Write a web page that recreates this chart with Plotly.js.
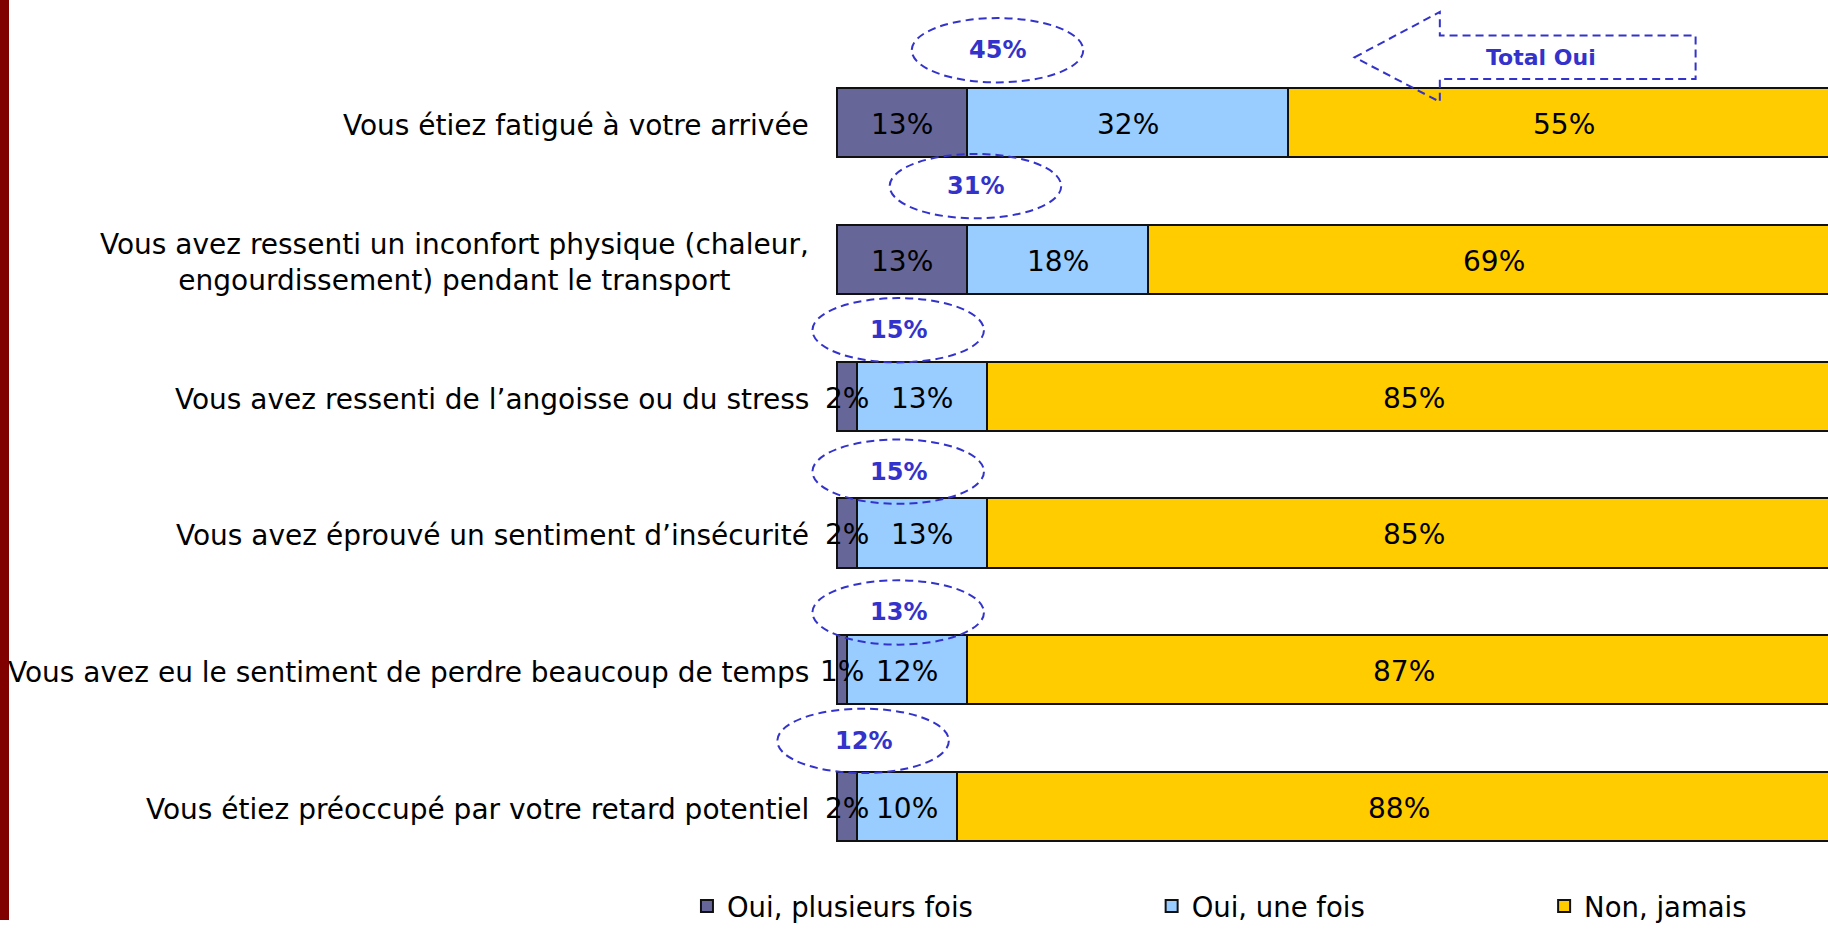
<!DOCTYPE html>
<html><head><meta charset="utf-8">
<script src="https://cdn.plot.ly/plotly-3.0.1.min.js"></script>
<style>html,body{margin:0;padding:0;background:#fff;} #chart{width:1828px;height:931px;}</style>
</head><body><div id="chart"></div>
<script>
// ---- data ----
const categories = [
  "Vous étiez fatigué à votre arrivée",
  "Vous avez ressenti un inconfort physique (chaleur,<br>engourdissement) pendant le transport",
  "Vous avez ressenti de l’angoisse ou du stress",
  "Vous avez éprouvé un sentiment d’insécurité",
  "Vous avez eu le sentiment de perdre beaucoup de temps",
  "Vous étiez préoccupé par votre retard potentiel"
];
const seriesNames = ["Oui, plusieurs fois", "Oui, une fois", "Non, jamais"];
const ouiPlusieurs = [13, 13, 2, 2, 1, 2];
const ouiUneFois = [32, 18, 13, 13, 12, 10];
const nonJamais = [55, 69, 85, 85, 87, 88];
const totalOui = [45, 31, 15, 15, 13, 12];
const totalLabel = "Total Oui";

// ---- styling / layout helpers ----
const FONT = "DejaVu Sans, Verdana, sans-serif";
const colors = ["#666699", "#99CCFF", "#FFCC00"];
const blue = "#3333CC";
const dashStyle = "8px,5px";
// ellipse placement (x centre in % units, vertical offset in category units)
const ellipseX = [16.0, 13.8, 6.1, 6.1, 6.1, 2.6];
const ellipseDy = [-0.527, -0.534, -0.481, -0.448, -0.419, -0.481];
const ellHalfW = 8.55, ellHalfH = 0.235;

const seriesValues = [ouiPlusieurs, ouiUneFois, nonJamais];
const legendIds = ["legend", "legend2", "legend3"];
const idx = categories.map((_, i) => i);

const traces = seriesValues.map((vals, k) => ({
  type: "bar",
  orientation: "h",
  name: seriesNames[k],
  legend: legendIds[k],
  x: vals,
  y: idx,
  textposition: "none",
  marker: {color: colors[k], line: {color: "#111", width: 2}},
  hoverinfo: "skip"
}));

const shapes = [];
const annotations = [];

// left dark red strip
shapes.push({type: "rect", xref: "paper", yref: "paper", x0: 0, x1: 9 / 1828, y0: 0, y1: 1,
  fillcolor: "#800000", line: {width: 0}, layer: "above"});

// category labels
categories.forEach((c, i) => {
  annotations.push({x: -2.6, y: i, xref: "x", yref: "y", text: c, showarrow: false,
    xanchor: "right", yanchor: "middle", align: "center", yshift: -3,
    font: {family: FONT, size: 28, color: "#000"}});
});

// value labels, centred in each stacked segment (drawn on top of bars)
categories.forEach((c, i) => {
  let start = 0;
  seriesValues.forEach(vals => {
    const v = vals[i];
    annotations.push({x: start + v / 2, y: i, xref: "x", yref: "y", text: v + "%", showarrow: false,
      xanchor: "center", yanchor: "middle", yshift: -2,
      font: {family: FONT, size: 28, color: "#000"}});
    start += v;
  });
});

// total-oui ellipses
totalOui.forEach((t, i) => {
  const cx = ellipseX[i], cy = i + ellipseDy[i];
  shapes.push({type: "circle", xref: "x", yref: "y",
    x0: cx - ellHalfW, x1: cx + ellHalfW, y0: cy - ellHalfH, y1: cy + ellHalfH,
    line: {color: blue, width: 2, dash: dashStyle}, fillcolor: "rgba(0,0,0,0)", layer: "above"});
  annotations.push({x: cx, y: cy, xref: "x", yref: "y", text: t + "%", showarrow: false,
    xanchor: "center", yanchor: "middle",
    font: {family: FONT, size: 24, color: blue, weight: "bold"}});
});

// "Total Oui" dashed arrow (block arrow pointing left)
const ax = [51.6, 60.1, 60.1, 85.6, 85.6, 60.1, 60.1];
const ay = [-0.475, -0.807, -0.634, -0.634, -0.316, -0.316, -0.150];
let p = "M" + ax[0] + "," + ay[0];
for (let j = 1; j < ax.length; j++) p += " L" + ax[j] + "," + ay[j];
p += " Z";
shapes.push({type: "path", xref: "x", yref: "y", path: p,
  line: {color: blue, width: 2, dash: dashStyle}, fillcolor: "rgba(0,0,0,0)", layer: "above"});
annotations.push({x: 70.2, y: -0.475, xref: "x", yref: "y", text: totalLabel, showarrow: false,
  xanchor: "center", yanchor: "middle",
  font: {family: FONT, size: 22, color: blue, weight: "bold"}});

const legendBase = {orientation: "h", yref: "paper", xref: "paper", y: 0.015, yanchor: "middle",
  xanchor: "left", bgcolor: "rgba(0,0,0,0)", font: {family: FONT, size: 27.5, color: "#000"},
  itemclick: false, itemdoubleclick: false};

const layout = {
  width: 1828, height: 931,
  margin: {l: 0, r: 0, t: 0, b: 0, pad: 0},
  paper_bgcolor: "#fff", plot_bgcolor: "#fff",
  barmode: "stack",
  bargap: 0.495,
  font: {family: FONT, size: 28, color: "#000"},
  xaxis: {range: [-83.45, 98.8], visible: false, fixedrange: true},
  yaxis: {type: "linear", range: [5.828, -0.894], visible: false, fixedrange: true},
  showlegend: true,
  legend: Object.assign({}, legendBase, {x: 0.3758}),
  legend2: Object.assign({}, legendBase, {x: 0.630}),
  legend3: Object.assign({}, legendBase, {x: 0.8447}),
  shapes: shapes,
  annotations: annotations,
  hovermode: false
};

Plotly.newPlot("chart", traces, layout, {displayModeBar: false, staticPlot: true});
</script>
</body></html>
